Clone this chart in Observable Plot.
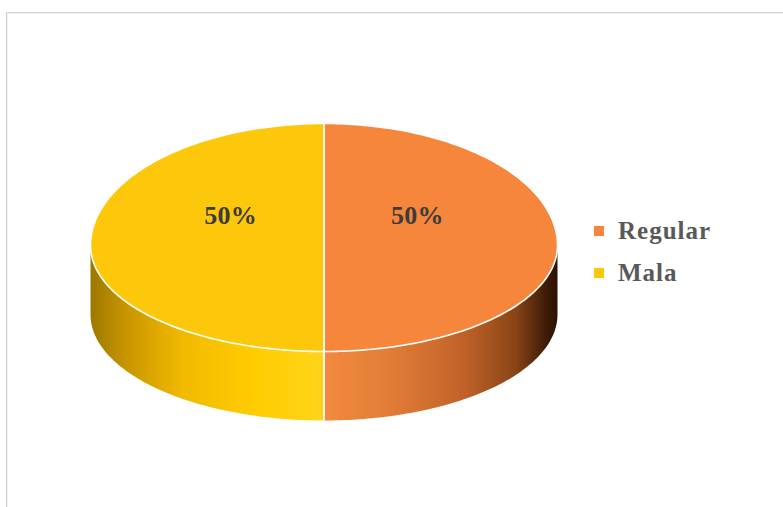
<!DOCTYPE html>
<html><head><meta charset="utf-8">
<script src="https://cdn.jsdelivr.net/npm/d3@7"></script>
<script src="https://cdn.jsdelivr.net/npm/@observablehq/plot@0.6"></script>
<style>
html,body{margin:0;padding:0;background:#fff;}
#wrap{position:relative;width:783px;height:507px;overflow:hidden;background:#fff;}
#frame{position:absolute;left:6px;top:12px;width:790px;height:510px;border-left:1px solid #d2d2d2;border-top:1px solid #d2d2d2;box-shadow:inset 1px 1px 0 #f0f0f0;}
#chart{position:absolute;left:0;top:0;}
#chart text{letter-spacing:0.3px;}
#legend{position:absolute;left:594px;top:219px;font-family:"Liberation Serif",serif;font-weight:bold;font-size:25px;color:#595959;letter-spacing:1px;}
#legend .item{display:flex;align-items:center;height:24px;margin-bottom:18px;white-space:nowrap;}
#legend .sw{width:10px;height:10px;margin-right:14px;flex-shrink:0;}
</style></head><body>
<div id="wrap"><div id="frame"></div><div id="chart"></div><div id="legend"></div></div>
<script>
// ---- data ----
const categories = ["Regular", "Mala"];
const values = [50, 50];
const labels = ["50%", "50%"];
const topColors = ["#F5863B", "#FDC70C"];
const sideStops = [
  [[0, "#F28A3F"], [0.3, "#E07B36"], [0.6, "#C06228"], [0.82, "#8A4416"], [0.95, "#3E1C07"], [1, "#2A1204"]],
  [[0, "#9C7800"], [0.15, "#C89500"], [0.4, "#F2BA00"], [0.7, "#FFCC00"], [1, "#FFD41A"]]
];

// ---- geometry (unit ellipse, 12 o'clock start, clockwise) ----
const RY_BACK = 1, RY_FRONT = 106 / 122, DEPTH = 69 / 122, LABEL_R = 0.4;
function pt(a) { const c = Math.cos(a); return [Math.sin(a), c * (c > 0 ? RY_BACK : RY_FRONT)]; }
function angles(a0, a1) {
  const n = Math.max(2, Math.ceil((a1 - a0) / (Math.PI / 180)));
  return d3.range(n + 1).map(i => a0 + (a1 - a0) * i / n);
}
const arcs = d3.pie().sort(null).value(d => d)(values);

const tops = [];
arcs.forEach((a, i) => {
  tops.push({name: categories[i], x: 0, y: 0});
  angles(a.startAngle, a.endAngle).forEach(t => { const [x, y] = pt(t); tops.push({name: categories[i], x, y}); });
  tops.push({name: categories[i], x: 0, y: 0});
});

const sides = [];
arcs.forEach((a, i) => {
  const s0 = Math.max(a.startAngle, Math.PI / 2), s1 = Math.min(a.endAngle, 3 * Math.PI / 2);
  if (s1 <= s0) return;
  const ts = angles(s0, s1);
  const upper = ts.map(t => { const [x, y] = pt(t); return {x, y}; });
  const lower = upper.slice().reverse().map(p => ({x: p.x, y: p.y - DEPTH}));
  sides.push({index: i, points: upper.concat(lower)});
});

const seps = [];
arcs.forEach(a => {
  [a.startAngle, a.endAngle].forEach(t => {
    if (t > Math.PI / 2 && t < 3 * Math.PI / 2 && !seps.some(s => Math.abs(s.t - t) < 1e-9)) {
      const [x, y] = pt(t); seps.push({t, x, y1: y, y2: y - DEPTH});
    }
  });
});

const labelData = arcs.map((a, i) => {
  const m = (a.startAngle + a.endAngle) / 2;
  return {label: labels[i], x: LABEL_R * Math.sin(m), y: LABEL_R * Math.cos(m)};
});

const chart = Plot.plot({
  width: 783, height: 507, margin: 0,
  x: {domain: [-1, 1], range: [90, 557], axis: null},
  y: {domain: [-1, 1], range: [367, 123], axis: null},
  color: {domain: categories, range: topColors},
  style: {background: "transparent", overflow: "visible"},
  marks: [
    ...sides.map(s => Plot.line(s.points, {x: "x", y: "y", fill: `url(#side${s.index})`, stroke: "none", curve: "linear"})),
    Plot.link(seps, {x1: "x", y1: "y1", x2: "x", y2: "y2", stroke: "#ffffff", strokeWidth: 1.8}),
    Plot.line(tops, {x: "x", y: "y", z: "name", fill: "name", stroke: "#ffffff", strokeWidth: 1.6, strokeLinejoin: "round", curve: "linear"}),
    Plot.text(labelData, {x: "x", y: "y", text: "label", dy: -30, lineAnchor: "middle", fontSize: 26, fontWeight: "bold", fontFamily: "Liberation Serif", fill: "#3c3c3c"})
  ]
});

const defs = d3.select(chart).insert("defs", ":first-child");
sideStops.forEach((stops, i) => {
  const g = defs.append("linearGradient").attr("id", "side" + i).attr("x1", 0).attr("x2", 1).attr("y1", 0).attr("y2", 0);
  stops.forEach(([o, c]) => g.append("stop").attr("offset", o).attr("stop-color", c));
});
document.getElementById("chart").appendChild(chart);

const color = chart.scale("color");
const lg = d3.select("#legend");
color.domain.forEach((d, i) => {
  const it = lg.append("div").attr("class", "item");
  it.append("div").attr("class", "sw").style("background", color.range[i]);
  it.append("span").text(d);
});
</script>
</body></html>
